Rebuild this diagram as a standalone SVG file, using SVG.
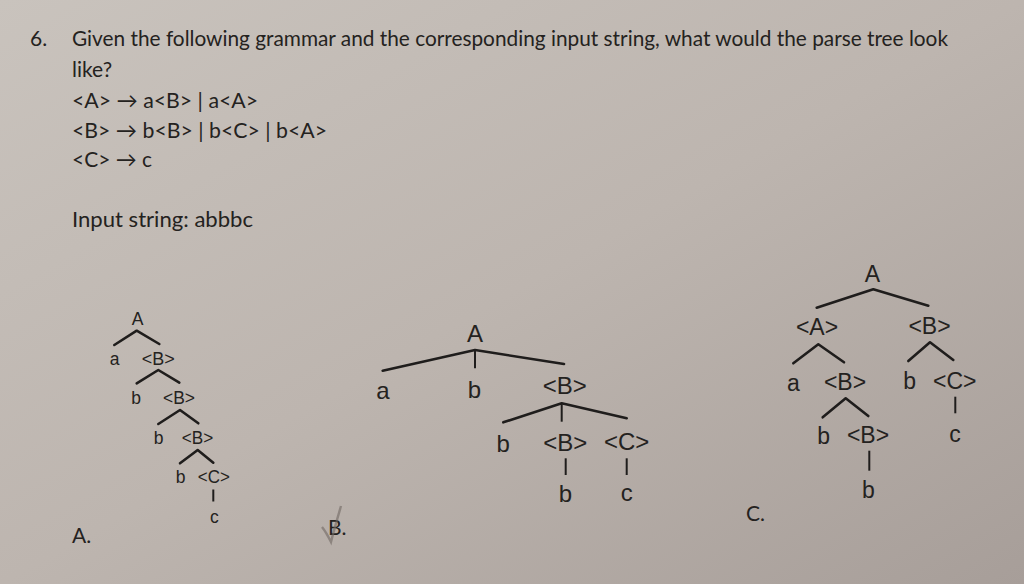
<svg xmlns="http://www.w3.org/2000/svg" width="1024" height="584" viewBox="0 0 1024 584">
<defs>
<linearGradient id="bg" x1="0" y1="0" x2="1" y2="1">
<stop offset="0" stop-color="#c9c3bd"/>
<stop offset="0.5" stop-color="#bdb5af"/>
<stop offset="1" stop-color="#a79e99"/>
</linearGradient>
<style>
.q{font-family:Lato,"Open Sans","DejaVu Sans",sans-serif;font-size:21px;fill:#242220}
.t{font-family:"Liberation Sans",Arial,sans-serif;fill:#242220;text-anchor:middle}
.ta{font-size:17.5px}
.tb{font-size:24px}
.tc{font-size:23px}
.e{stroke:#1f1d1c;stroke-width:2.6;fill:none;stroke-linecap:round;stroke-linejoin:round}
.ev{stroke:#1f1d1c;stroke-width:2;fill:none}
</style>
</defs>
<rect width="1024" height="584" fill="url(#bg)"/>

<g id="question">
<text class="q" x="30" y="46">6.</text>
<text class="q" x="72" y="46" textLength="876" lengthAdjust="spacingAndGlyphs">Given the following grammar and the corresponding input string, what would the parse tree look</text>
<text class="q" x="72" y="77">like?</text>
<text class="q" x="72" y="108" textLength="186" lengthAdjust="spacingAndGlyphs">&lt;A&gt; → a&lt;B&gt; | a&lt;A&gt;</text>
<text class="q" x="72" y="138" textLength="255" lengthAdjust="spacingAndGlyphs">&lt;B&gt; → b&lt;B&gt; | b&lt;C&gt; | b&lt;A&gt;</text>
<text class="q" x="72" y="167" textLength="80" lengthAdjust="spacingAndGlyphs">&lt;C&gt; → c</text>
<text class="q" x="72" y="227" textLength="181" lengthAdjust="spacingAndGlyphs">Input string: abbbc</text>
</g>

<g id="labels">
<text class="q" x="72" y="543">A.</text>
<text class="q" x="328" y="535">B.</text>
<text class="q" x="746" y="521">C.</text>
<path d="M322,527 Q326,532 331,542 Q334,530 341,506" stroke="#6f6863" stroke-width="2.4" fill="none" opacity="0.6"/>
</g>

<g id="connectors">
<!-- tree A -->
<polyline class="e" points="114.3,345 136.7,330.7 159.3,344"/>
<polyline class="e" points="136.7,383.3 158.3,370 179.3,382.7"/>
<polyline class="e" points="158.3,424 180,410 198.3,423.3"/>
<polyline class="e" points="180,463.3 197.7,450 213.3,462.7"/>
<line class="ev" x1="213.3" y1="489.5" x2="213.3" y2="501.5"/>
<!-- tree B -->
<polyline class="e" points="382.7,370.7 475,350 564,364"/>
<line class="ev" x1="475" y1="350" x2="475" y2="368.3"/>
<polyline class="e" points="503.3,422.3 561.7,403.3 626.7,418.3"/>
<line class="ev" x1="561.7" y1="403.3" x2="561.7" y2="421.7"/>
<line class="ev" x1="565.7" y1="458.3" x2="565.7" y2="475"/>
<line class="ev" x1="626.7" y1="458.3" x2="626.7" y2="475"/>
<!-- tree C -->
<polyline class="e" points="816.7,307.7 873.3,289.3 928.3,305.7"/>
<polyline class="e" points="793.3,363.3 818.3,344.3 844,362.3"/>
<polyline class="e" points="908.3,361 930,342.3 953.3,360"/>
<polyline class="e" points="822.7,417.3 845.7,398.3 868.3,416"/>
<line class="ev" x1="955.3" y1="396.7" x2="955.3" y2="413.3"/>
<line class="ev" x1="869.3" y1="450.7" x2="869.3" y2="470.7"/>
</g>

<g id="treeA">
<g id="a-A"><text class="t ta" x="137.5" y="325">A</text></g>
<g id="a-a"><text class="t ta" x="114.7" y="365">a</text></g>
<g id="a-B1"><text class="t ta" x="158.3" y="365" textLength="33" lengthAdjust="spacingAndGlyphs">&lt;B&gt;</text></g>
<g id="a-b1"><text class="t ta" x="136" y="404">b</text></g>
<g id="a-B2"><text class="t ta" x="179" y="404" textLength="32" lengthAdjust="spacingAndGlyphs">&lt;B&gt;</text></g>
<g id="a-b2"><text class="t ta" x="158.7" y="444">b</text></g>
<g id="a-B3"><text class="t ta" x="197.5" y="444" textLength="31.5" lengthAdjust="spacingAndGlyphs">&lt;B&gt;</text></g>
<g id="a-b3"><text class="t ta" x="180.5" y="483">b</text></g>
<g id="a-C"><text class="t ta" x="213.8" y="483" textLength="32" lengthAdjust="spacingAndGlyphs">&lt;C&gt;</text></g>
<g id="a-c"><text class="t ta" x="214.3" y="523">c</text></g>
</g>

<g id="treeB">
<g id="b-A"><text class="t tb" x="475" y="341.5">A</text></g>
<g id="b-a"><text class="t tb" x="383" y="399">a</text></g>
<g id="b-b1"><text class="t tb" x="474.5" y="397.5">b</text></g>
<g id="b-B1"><text class="t tb" x="564.7" y="393.5">&lt;B&gt;</text></g>
<g id="b-b2"><text class="t tb" x="503.3" y="451.5">b</text></g>
<g id="b-B2"><text class="t tb" x="565.3" y="451">&lt;B&gt;</text></g>
<g id="b-C"><text class="t tb" x="626.7" y="450">&lt;C&gt;</text></g>
<g id="b-b3"><text class="t tb" x="565.5" y="501.5">b</text></g>
<g id="b-c"><text class="t tb" x="626.7" y="501">c</text></g>
</g>

<g id="treeC">
<g id="c-A"><text class="t tc" x="872.5" y="281.5">A</text></g>
<g id="c-A2"><text class="t tc" x="817" y="335">&lt;A&gt;</text></g>
<g id="c-B1"><text class="t tc" x="929.5" y="334">&lt;B&gt;</text></g>
<g id="c-a"><text class="t tc" x="793.3" y="391">a</text></g>
<g id="c-B2"><text class="t tc" x="845" y="390">&lt;B&gt;</text></g>
<g id="c-b1"><text class="t tc" x="909.7" y="389">b</text></g>
<g id="c-C"><text class="t tc" x="954.7" y="389">&lt;C&gt;</text></g>
<g id="c-b2"><text class="t tc" x="823.7" y="444">b</text></g>
<g id="c-B3"><text class="t tc" x="868" y="442.5">&lt;B&gt;</text></g>
<g id="c-c"><text class="t tc" x="955" y="441.5">c</text></g>
<g id="c-b3"><text class="t tc" x="868.5" y="498">b</text></g>
</g>
</svg>
